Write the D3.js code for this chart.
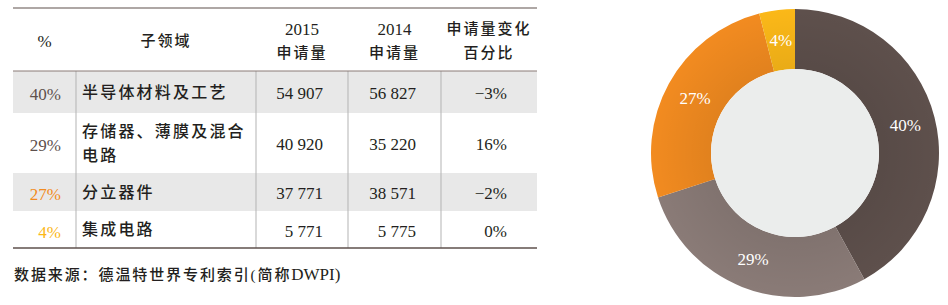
<!DOCTYPE html>
<html>
<head>
<meta charset="utf-8">
<script src="https://cdn.jsdelivr.net/npm/d3@7"></script>
<style>
  html, body { margin: 0; padding: 0; background: #fff; }
  svg { display: block; }
  .latin { font-family: "Liberation Serif", "Noto Sans CJK SC", serif; }
  .cjk { font-family: "Liberation Serif", "Noto Sans CJK SC", sans-serif; font-weight: 500; }
</style>
</head>
<body>
<svg id="chart" width="948" height="305"></svg>
<script>
// table content
const headers = [["%"], ["子领域"], ["2015", "申请量"], ["2014", "申请量"], ["申请量变化", "百分比"]];
const shareLabels = ["40%", "29%", "27%", "4%"];
const subfields = [["半导体材料及工艺"], ["存储器、薄膜及混合", "电路"], ["分立器件"], ["集成电路"]];
const apps2015 = [54907, 40920, 37771, 5771];
const apps2014 = [56827, 35220, 38571, 5775];
const changePct = [-3, 16, -2, 0];
const sourceParts = ["数据来源：德温特世界专利索引(简称", "DWPI)"];

// ring: slice sizes as drawn (share of the circle, %)
const sliceValues = [42, 28, 26, 4];
const sliceColors = ["#5e504c", "#8a7b77", "#f28b20", "#fbb818"];
const labelColors = ["#5e504c", "#5e504c", "#f28b20", "#fbb818"];

// layout
const colEdges = [13, 76, 256, 348, 441, 537];
const headTop = 8, headBottom = 71;
const rowHeights = [42, 60, 38, 37];

const svg = d3.select("#chart");
const fmt = d3.formatLocale({ decimal: ".", thousands: " ", grouping: [3], minus: "\u2212" });
const fmtNum = fmt.format(",d");
const fmtPct = d => fmt.format("d")(d) + "%";

let rowTops = [headBottom];
rowHeights.forEach(h => rowTops.push(rowTops[rowTops.length - 1] + h));
const tableBottom = rowTops[rowTops.length - 1];

const t = svg.append("g");

// row backgrounds
t.selectAll("rect.bg")
  .data(rowHeights)
  .join("rect")
  .attr("class", "bg")
  .attr("x", colEdges[0])
  .attr("width", colEdges[5] - colEdges[0])
  .attr("y", (d, i) => rowTops[i])
  .attr("height", d => d)
  .attr("fill", (d, i) => i % 2 === 0 ? "#e8e8e8" : "#fff");

// vertical separators
t.selectAll("line.v")
  .data(colEdges.slice(1, 5))
  .join("line")
  .attr("x1", d => d).attr("x2", d => d)
  .attr("y1", headBottom).attr("y2", tableBottom)
  .attr("stroke", "#b3b3b3").attr("stroke-width", 1);

// horizontal lines
t.append("line").attr("x1", colEdges[0]).attr("x2", colEdges[5])
  .attr("y1", headTop).attr("y2", headTop).attr("stroke", "#5e504c").attr("stroke-width", 1.2);
t.append("line").attr("x1", colEdges[0]).attr("x2", colEdges[5])
  .attr("y1", headBottom).attr("y2", headBottom).attr("stroke", "#8a7b77").attr("stroke-width", 1);
t.append("line").attr("x1", colEdges[0]).attr("x2", colEdges[5])
  .attr("y1", tableBottom).attr("y2", tableBottom).attr("stroke", "#5e504c").attr("stroke-width", 1.5);

// header
headers.forEach((lines, c) => {
  const cx = (colEdges[c] + colEdges[c + 1]) / 2;
  const mid = (headTop + headBottom) / 2 + 1;
  lines.forEach((s, k) => {
    const latin = /^[0-9%]+$/.test(s);
    const y = mid + (k - (lines.length - 1) / 2) * 24;
    t.append("text")
      .attr("class", latin ? "latin" : "cjk")
      .attr("x", cx).attr("y", y).attr("dy", "0.36em")
      .attr("text-anchor", "middle")
      .attr("font-size", latin ? 17 : 15)
      .attr("letter-spacing", latin ? 0 : 2)
      .attr("fill", "#231f20")
      .text(s);
  });
});

// body rows
rowHeights.forEach((h, i) => {
  const cy = rowTops[i] + h / 2;
  t.append("text").attr("class", "latin")
    .attr("x", colEdges[1] - 15).attr("y", cy + 2).attr("dy", "0.36em")
    .attr("text-anchor", "end").attr("font-size", 17)
    .attr("fill", labelColors[i]).text(shareLabels[i]);

  const lines = subfields[i];
  lines.forEach((s, k) => {
    t.append("text").attr("class", "cjk")
      .attr("x", colEdges[1] + 6)
      .attr("y", cy + (k - (lines.length - 1) / 2) * 24)
      .attr("dy", "0.36em")
      .attr("font-size", 16).attr("letter-spacing", 2.2)
      .attr("fill", "#231f20").text(s);
  });

  const nums = [fmtNum(apps2015[i]), fmtNum(apps2014[i]), fmtPct(changePct[i])];
  const rights = [colEdges[3] - 25, colEdges[4] - 25, colEdges[5] - 30];
  nums.forEach((s, k) => {
    t.append("text").attr("class", "latin")
      .attr("x", rights[k]).attr("y", cy + 1).attr("dy", "0.36em")
      .attr("text-anchor", "end").attr("font-size", 17)
      .attr("fill", "#231f20").text(s);
  });
});

// source note
const note = t.append("text").attr("class", "cjk")
  .attr("x", 14).attr("y", 275).attr("dy", "0.36em")
  .attr("font-size", 15).attr("fill", "#231f20");
note.append("tspan").attr("letter-spacing", 1.9).text(sourceParts[0]);
note.append("tspan").attr("class", "latin").attr("font-size", 17).attr("letter-spacing", 0).text(sourceParts[1]);

// ring chart
const cx = 795, cy = 153, rIn = 84, rOut = 144;
const pie = d3.pie().sort(null).value(d => d);
const arc = d3.arc().innerRadius(rIn).outerRadius(rOut);
const labelArc = d3.arc().innerRadius(114).outerRadius(114);
const arcs = pie(sliceValues);

const defs = svg.append("defs");
const grad = defs.append("radialGradient").attr("id", "shade")
  .attr("gradientUnits", "userSpaceOnUse")
  .attr("cx", 0).attr("cy", 0).attr("r", rOut);
grad.append("stop").attr("offset", rIn / rOut).attr("stop-color", "#000").attr("stop-opacity", 0.07);
grad.append("stop").attr("offset", 1).attr("stop-color", "#000").attr("stop-opacity", 0);

const ring = svg.append("g").attr("transform", `translate(${cx},${cy})`);
ring.selectAll("path.slice")
  .data(arcs)
  .join("path")
  .attr("class", "slice")
  .attr("d", arc)
  .attr("fill", (d, i) => sliceColors[i]);
ring.append("path")
  .attr("d", d3.arc().innerRadius(rIn).outerRadius(rOut).startAngle(0).endAngle(2 * Math.PI)())
  .attr("fill", "url(#shade)");
ring.append("circle").attr("r", rIn).attr("fill", "#ebedec");

ring.selectAll("text.lbl")
  .data(arcs)
  .join("text")
  .attr("class", "lbl latin")
  .attr("transform", d => `translate(${labelArc.centroid(d)})`)
  .attr("dy", "0.36em")
  .attr("text-anchor", "middle")
  .attr("font-size", 17)
  .attr("fill", "#fff")
  .text((d, i) => shareLabels[i]);
</script>
</body>
</html>
